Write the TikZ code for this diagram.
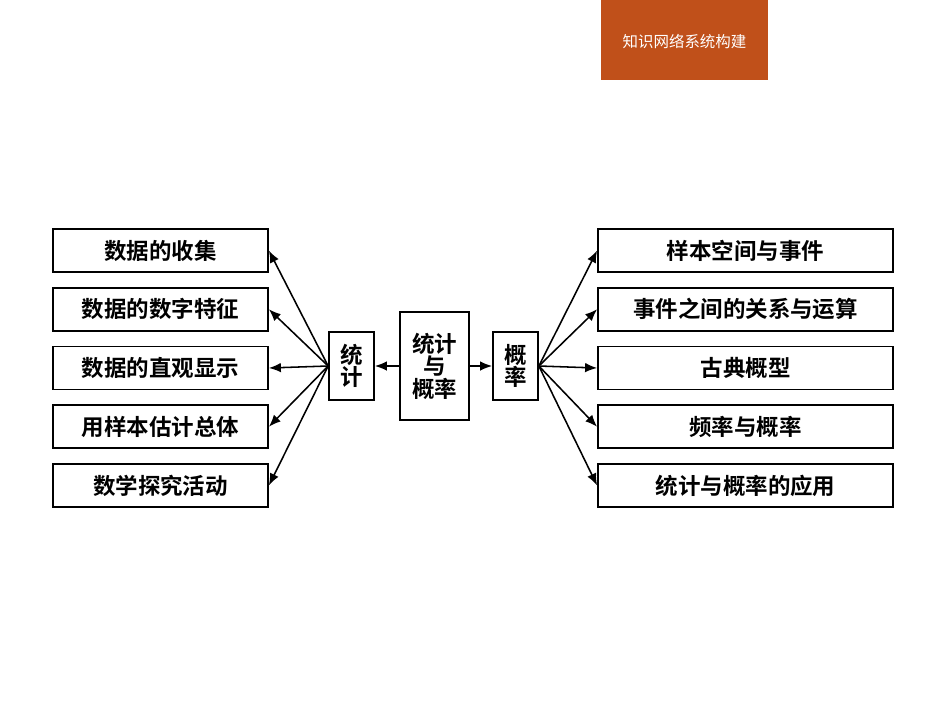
\documentclass[tikz,border=0pt]{standalone}
\usepackage{fontspec}
\setmainfont{Noto Sans CJK SC}
\newfontfamily\cjkbold[BoldFont={Noto Sans CJK SC Bold}]{Noto Sans CJK SC}
\usetikzlibrary{arrows.meta,positioning}
\definecolor{headbg}{HTML}{C0501A}

\begin{document}
\begin{tikzpicture}[x=0.025cm,y=-0.025cm,font=\cjkbold\bfseries\fontsize{16}{18}\selectfont,
  item/.style={draw, line width=1.2pt, minimum height=1.075cm, inner sep=1pt},
  leftitem/.style={item, minimum width=5.375cm},
  rightitem/.style={item, minimum width=7.375cm},
  hub/.style={draw, line width=1.2pt, minimum width=1.125cm, minimum height=1.7cm, align=center, inner sep=1pt, font=\cjkbold\bfseries\fontsize{16}{16}\selectfont},
  link/.style={-{Latex[length=3mm,width=2.4mm]}, line width=1.1pt},
]
\useasboundingbox (0,0) rectangle (950,713);

\fill[headbg] (601,0) rectangle (768,80);
\node[text=white, font=\fontsize{11}{13}\selectfont] (head) at (684.5,42) {知识网络系统构建};

\node[hub, minimum height=2.7cm, minimum width=1.725cm] (center) at (434.5,366) {统计\\与\\概率};
\node[hub] (stat) at (351.5,366) {统\\计};
\node[hub] (prob) at (515.5,366) {概\\率};

\draw[link] (center) -- (stat);
\draw[link] (center) -- (prob);

\foreach \txt [count=\i] in {数据的收集,数据的数字特征,数据的直观显示,用样本估计总体,数学探究活动}
  \node[leftitem] (s\i) at (160.5,{250.5+58.75*(\i-1)}) {\txt};

\foreach \txt [count=\i] in {样本空间与事件,事件之间的关系与运算,古典概型,频率与概率,统计与概率的应用}
  \node[rightitem] (p\i) at (745.5,{250.5+58.75*(\i-1)}) {\txt};

\foreach \i in {1,...,5} {
  \draw[link] (stat.west) -- (s\i.east);
  \draw[link] (prob.east) -- (p\i.west);
}
\end{tikzpicture}
\end{document}
